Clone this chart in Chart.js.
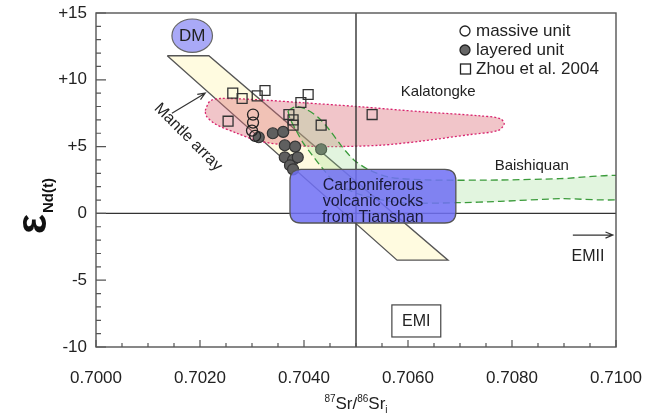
<!DOCTYPE html>
<html>
<head>
<meta charset="utf-8">
<script src="https://cdn.jsdelivr.net/npm/chart.js@4.4.1/dist/chart.umd.min.js"></script>
<style>
  html, body { margin: 0; padding: 0; background: #fff; }
  #wrap { width: 646px; height: 416px; }
</style>
</head>
<body>
<div id="wrap"><canvas id="chart"></canvas></div>
<script>
// Sample data (87Sr/86Sr_i vs eNd(t))
const massiveSr = [0.70302, 0.70302, 0.70300, 0.70306];
const massiveNd = [7.4, 6.8, 6.2, 5.8];

const layeredSr = [0.70313, 0.70340, 0.70360, 0.70363, 0.70383, 0.70363, 0.70379, 0.70388, 0.70373, 0.70379, 0.70433];
const layeredNd = [5.7, 6.0, 6.1, 5.1, 5.0, 4.2, 4.0, 4.2, 3.6, 3.3, 4.8];

const zhouSr = [0.70263, 0.70281, 0.70310, 0.70325, 0.70254, 0.70394, 0.70408, 0.70371, 0.70379, 0.70379, 0.70433, 0.70531];
const zhouNd = [9.0, 8.6, 8.8, 9.2, 6.9, 8.3, 8.9, 7.4, 7.0, 6.6, 6.6, 7.4];

// Fields
const mantleSr = [0.70137, 0.70217, 0.70677, 0.70579, 0.70137];
const mantleNd = [11.8, 11.8, -3.5, -3.5, 11.8];

const kalaSr = [0.70210, 0.70219, 0.70239, 0.70315, 0.70392, 0.70502, 0.70629, 0.70739, 0.70777, 0.70785,
                0.70773, 0.70719, 0.70623, 0.70546, 0.70450, 0.70373, 0.70315, 0.70271, 0.70229, 0.70212, 0.70210];
const kalaNd = [7.7, 8.4, 8.6, 8.5, 8.3, 8.0, 7.6, 7.3, 7.1, 6.7,
                6.2, 5.9, 5.4, 5.1, 5.0, 5.1, 5.4, 6.0, 6.7, 7.3, 7.7];

const baishiSr = [0.70369, 0.70385, 0.70404, 0.70427, 0.70450, 0.70473, 0.70496, 0.70523, 0.70565, 0.70642, 0.70777, 0.70892, 0.71025,
                  0.71025, 0.70892, 0.70777, 0.70694, 0.70585, 0.70508, 0.70460, 0.70435, 0.70415, 0.70398, 0.70385, 0.70373, 0.70369];
const baishiNd = [7.7, 8.0, 7.8, 7.2, 6.2, 5.0, 4.0, 3.3, 2.7, 2.5, 2.5, 2.6, 2.75,
                  1.15, 1.1, 0.9, 0.8, 0.8, 1.4, 2.3, 3.4, 4.4, 5.3, 6.2, 7.1, 7.7];

// Reference lines
const refSr = 0.7050;
const refNd = 0;

const xMin = 0.7000, xMax = 0.7100, xStep = 0.002, xMinor = 0.0005;
const yMin = -10, yMax = 15, yStep = 5, yMinor = 1;

const FONT = "'Liberation Sans', Arial, sans-serif";
const zip = (xs, ys) => xs.map((v, i) => ({ x: v, y: ys[i] }));

function shape(data, fill, border, dash, tension, order) {
  return {
    type: 'line', data, showLine: true, fill: 'shape', tension,
    backgroundColor: fill, borderColor: border, borderWidth: 1.3, borderDash: dash,
    pointRadius: 0, pointHoverRadius: 0, order
  };
}

function textAt(ctx, s, px, py, size, align, color) {
  ctx.save();
  ctx.font = size + 'px ' + FONT;
  ctx.fillStyle = color || '#222';
  ctx.textAlign = align || 'center';
  ctx.textBaseline = 'middle';
  ctx.fillText(s, px, py);
  ctx.restore();
}

function arrow(ctx, x1, y1, x2, y2) {
  const a = Math.atan2(y2 - y1, x2 - x1);
  ctx.save();
  ctx.strokeStyle = '#333';
  ctx.lineWidth = 1.2;
  ctx.beginPath();
  ctx.moveTo(x1, y1); ctx.lineTo(x2, y2);
  ctx.moveTo(x2 - 8 * Math.cos(a - 0.4), y2 - 8 * Math.sin(a - 0.4));
  ctx.lineTo(x2, y2);
  ctx.lineTo(x2 - 8 * Math.cos(a + 0.4), y2 - 8 * Math.sin(a + 0.4));
  ctx.stroke();
  ctx.restore();
}

function rrect(ctx, x, y, w, h, r) {
  ctx.beginPath();
  ctx.moveTo(x + r, y);
  ctx.lineTo(x + w - r, y); ctx.quadraticCurveTo(x + w, y, x + w, y + r);
  ctx.lineTo(x + w, y + h - r); ctx.quadraticCurveTo(x + w, y + h, x + w - r, y + h);
  ctx.lineTo(x + r, y + h); ctx.quadraticCurveTo(x, y + h, x, y + h - r);
  ctx.lineTo(x, y + r); ctx.quadraticCurveTo(x, y, x + r, y);
  ctx.closePath();
}

const overlay = {
  id: 'overlay',
  afterDatasetsDraw(chart) {
    const { ctx, chartArea: a, scales: { x, y } } = chart;
    const X = v => x.getPixelForValue(v), Y = v => y.getPixelForValue(v);

    // Carboniferous box
    const bx1 = X(0.70373), bx2 = X(0.70692), by1 = Y(3.3), by2 = Y(-0.72);
    ctx.save();
    rrect(ctx, bx1, by1, bx2 - bx1, by2 - by1, 11);
    ctx.fillStyle = 'rgba(112,112,245,0.86)';
    ctx.fill();
    ctx.strokeStyle = '#555'; ctx.lineWidth = 1.3; ctx.stroke();
    ctx.restore();
    const bcx = (bx1 + bx2) / 2;
    textAt(ctx, 'Carboniferous', bcx, Y(2.05), 16, 'center', '#1a1a3a');
    textAt(ctx, 'volcanic rocks', bcx, Y(0.85), 16, 'center', '#1a1a3a');
    textAt(ctx, 'from Tianshan', bcx, Y(-0.35), 16, 'center', '#1a1a3a');

    // DM ellipse
    const ex = X(0.70185), ey = Y(13.3);
    ctx.save();
    ctx.beginPath();
    ctx.ellipse(ex, ey, X(0.70185 + 0.00039) - ex, ey - Y(13.3 + 1.25), 0, 0, Math.PI * 2);
    ctx.fillStyle = '#a9a9f7'; ctx.fill();
    ctx.strokeStyle = '#666'; ctx.lineWidth = 1.2; ctx.stroke();
    ctx.restore();
    textAt(ctx, 'DM', ex, ey + 1, 17);

    // EMI box
    const mx1 = X(0.70569), mx2 = X(0.70663), my1 = Y(-6.85), my2 = Y(-9.25);
    ctx.save();
    ctx.strokeStyle = '#444'; ctx.lineWidth = 1.2;
    ctx.strokeRect(mx1, my1, mx2 - mx1, my2 - my1);
    ctx.restore();
    textAt(ctx, 'EMI', (mx1 + mx2) / 2, (my1 + my2) / 2 + 1, 16);

    // labels
    textAt(ctx, 'Kalatongke', X(0.70658), Y(9.1), 15);
    textAt(ctx, 'Baishiquan', X(0.70838), Y(3.55), 15);
    textAt(ctx, 'EMII', X(0.70946), Y(-3.2), 16);
    arrow(ctx, X(0.70917), Y(-1.62), X(0.70994), Y(-1.62));
    arrow(ctx, X(0.70146), Y(7.5), X(0.70210), Y(9.0));
    ctx.save();
    ctx.translate(X(0.70177), Y(5.7));
    ctx.rotate(Math.PI / 4);
    textAt(ctx, 'Mantle array', 0, 0, 16);
    ctx.restore();

    // frame and inward ticks
    ctx.save();
    ctx.strokeStyle = '#555';
    ctx.lineWidth = 1.4;
    ctx.strokeRect(a.left, a.top, a.right - a.left, a.bottom - a.top);
    ctx.lineWidth = 1.2;
    ctx.beginPath();
    for (let v = yMin; v <= yMax; v += yMinor) {
      const len = v % yStep === 0 ? 10 : 5;
      ctx.moveTo(a.left, Y(v)); ctx.lineTo(a.left + len, Y(v));
    }
    for (let i = 0; i <= Math.round((xMax - xMin) / xMinor); i++) {
      const v = xMin + i * xMinor;
      const len = i % 4 === 0 ? 7 : 4;
      ctx.moveTo(X(v), a.bottom); ctx.lineTo(X(v), a.bottom - len);
    }
    ctx.stroke();
    ctx.restore();
  },
  afterDraw(chart) {
    const { ctx, chartArea: a } = chart;
    // x title with superscripts
    ctx.save();
    ctx.fillStyle = '#222';
    ctx.textBaseline = 'alphabetic';
    const parts = [['87', 10, -7], ['Sr/', 17, 0], ['86', 10, -7], ['Sr', 17, 0], ['i', 10, 4]];
    let w = 0;
    parts.forEach(p => { ctx.font = p[1] + 'px ' + FONT; w += ctx.measureText(p[0]).width; });
    let cx = (a.left + a.right) / 2 - w / 2;
    const base = 409;
    parts.forEach(p => {
      ctx.font = p[1] + 'px ' + FONT;
      ctx.fillText(p[0], cx, base + p[2]);
      cx += ctx.measureText(p[0]).width;
    });
    ctx.restore();

    // y title: epsilon Nd(t), rotated
    ctx.save();
    ctx.translate(46, 234);
    ctx.rotate(-Math.PI / 2);
    ctx.fillStyle = '#111';
    ctx.textBaseline = 'alphabetic';
    ctx.font = 'bold 42px ' + FONT;
    ctx.fillText('\u03b5', 0, 0);
    const ew = ctx.measureText('\u03b5').width;
    ctx.font = 'bold 15px ' + FONT;
    ctx.fillText('Nd(t)', ew + 1, 7);
    ctx.restore();

    // legend
    ctx.save();
    ctx.strokeStyle = '#222'; ctx.lineWidth = 1.3;
    ctx.beginPath(); ctx.arc(465, 31, 5, 0, Math.PI * 2); ctx.stroke();
    ctx.beginPath(); ctx.arc(465, 50, 5, 0, Math.PI * 2);
    ctx.fillStyle = '#666'; ctx.fill(); ctx.stroke();
    ctx.strokeRect(460.5, 64, 10, 10);
    ctx.restore();
    textAt(ctx, 'massive unit', 476, 31, 17, 'left');
    textAt(ctx, 'layered unit', 476, 50, 17, 'left');
    textAt(ctx, 'Zhou et al. 2004', 476, 69, 17, 'left');
  }
};

new Chart(document.getElementById('chart'), {
  type: 'scatter',
  data: {
    datasets: [
      {
        label: 'Zhou et al. 2004', data: zip(zhouSr, zhouNd), pointStyle: 'rect',
        pointRadius: 7, backgroundColor: 'rgba(0,0,0,0)', borderColor: '#333', borderWidth: 1.3, order: 1
      },
      {
        type: 'line', data: [{ x: refSr, y: yMin }, { x: refSr, y: yMax }], borderColor: '#333',
        borderWidth: 1.4, pointRadius: 0, fill: false, order: 2
      },
      {
        type: 'line', data: [{ x: xMin, y: refNd }, { x: xMax, y: refNd }], borderColor: '#333',
        borderWidth: 1.4, pointRadius: 0, fill: false, order: 2
      },
      shape(zip(baishiSr, baishiNd), 'rgba(150,220,140,0.28)', '#3b9b3b', [7, 4], 0.25, 3),
      {
        label: 'massive unit', data: zip(massiveSr, massiveNd), pointStyle: 'circle',
        pointRadius: 5.5, backgroundColor: 'rgba(0,0,0,0)', borderColor: '#222', borderWidth: 1.3, order: 4
      },
      {
        label: 'layered unit', data: zip(layeredSr, layeredNd), pointStyle: 'circle',
        pointRadius: 5.5, backgroundColor: '#5f5f5f', borderColor: '#333', borderWidth: 1.2, order: 5
      },
      shape(zip(kalaSr, kalaNd), 'rgba(220,110,120,0.4)', '#d8246e', [2, 2], 0.3, 6),
      shape(zip(mantleSr, mantleNd), '#fffbe0', '#555', [], 0, 7)
    ]
  },
  options: {
    responsive: true,
    maintainAspectRatio: false,
    animation: false,
    layout: { padding: { left: 0, right: 30, top: 13, bottom: 0 } },
    plugins: { legend: { display: false }, tooltip: { enabled: false } },
    scales: {
      x: {
        type: 'linear', min: xMin, max: xMax,
        grid: { display: false, drawTicks: false }, border: { display: false },
        ticks: {
          stepSize: xStep, padding: 21, color: '#222', font: { family: FONT, size: 17 },
          callback: v => v.toFixed(4), maxRotation: 0
        },
        afterFit: s => { s.height = 69; s.paddingLeft = 0; s.paddingRight = 0; }
      },
      y: {
        min: yMin, max: yMax,
        grid: { display: false, drawTicks: false }, border: { display: false },
        ticks: {
          stepSize: yStep, padding: 9, color: '#222', font: { family: FONT, size: 17 },
          callback: v => (v > 0 ? '+' + v : '' + v)
        },
        afterFit: s => { s.width = 96; s.paddingTop = 0; s.paddingBottom = 0; }
      }
    }
  },
  plugins: [overlay]
});
</script>
</body>
</html>
